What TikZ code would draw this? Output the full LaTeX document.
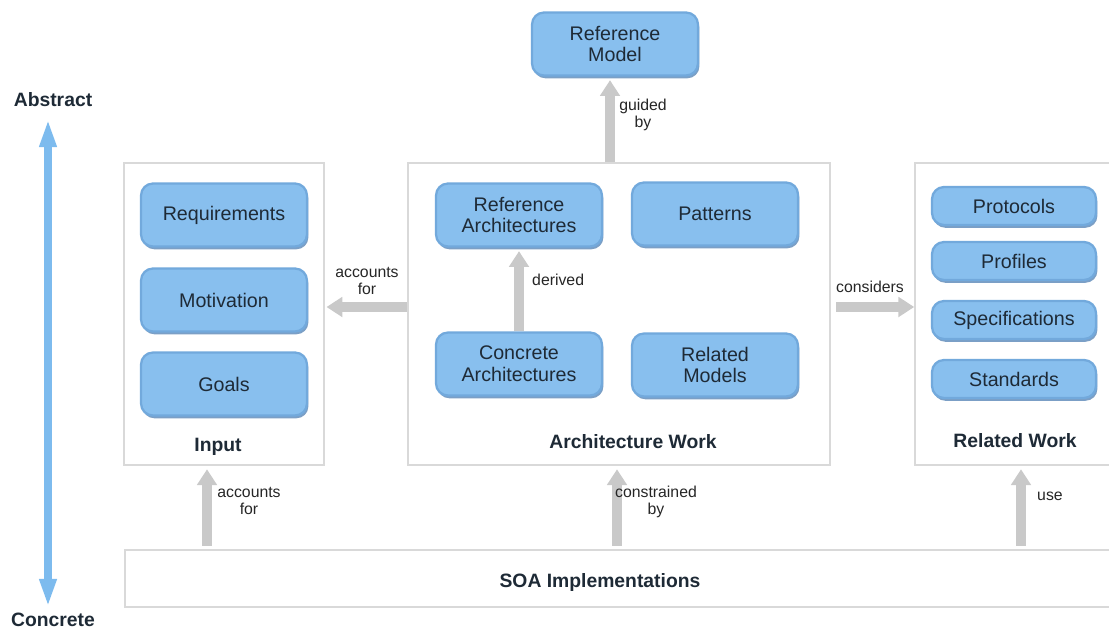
\documentclass[tikz,border=0pt]{standalone}
\usepackage{fontspec}
\setmainfont{Liberation Sans}
\usetikzlibrary{arrows.meta,shadows}
\definecolor{boxfill}{HTML}{88BFEE}
\definecolor{boxline}{HTML}{72A9DC}
\definecolor{boxshade}{HTML}{4F80B3}
\definecolor{framegray}{HTML}{D9D9D9}
\definecolor{arrowgray}{HTML}{C9C9C9}
\definecolor{scaleblue}{HTML}{7DBBEE}
\definecolor{boxtext}{HTML}{1E2A36}
\tikzset{
  bluebox/.style={rounded corners=0.24cm, fill=boxfill,
    draw=boxline, line width=1.3pt, align=center, text=boxtext,
    font=\fontsize{11.2}{12.4}\selectfont,
    drop shadow={shadow xshift=0.8pt, shadow yshift=-1.6pt, fill=boxshade, opacity=0.75},
    inner sep=0pt},
  bigbox/.style={bluebox, minimum width=3.32cm, minimum height=1.26cm},
  smallbox/.style={bluebox, minimum width=3.28cm, minimum height=0.76cm},
  frame/.style={draw=framegray, line width=0.9pt, fill=white, inner sep=0pt},
  framelabel/.style={font=\bfseries\fontsize{11}{12}\selectfont, text=boxtext},
  lbl/.style={font=\fontsize{9}{10}\selectfont, align=center, text=black!85},
  bigarrow/.style={draw=arrowgray, line width=5.6pt,
    -{Triangle[length=9pt, width=11pt]}},
  scalearrow/.style={draw=scaleblue, line width=4.6pt,
    {Triangle[length=16pt, width=9pt]}-{Triangle[length=16pt, width=9pt]}},
  scalelabel/.style={font=\bfseries\fontsize{11}{12}\selectfont, text=boxtext}
}
\begin{document}
\begin{tikzpicture}[x=0.02cm, y=-0.02cm]
\useasboundingbox (0,0) rectangle (1109,632);
\clip (0,0) rectangle (1109,632);

% frames
\node[frame, minimum width=4cm, minimum height=6.04cm] (input) at (224,314) {};
\node[frame, minimum width=8.44cm, minimum height=6.04cm] (arch) at (619,314) {};
\node[frame, minimum width=4.1cm, minimum height=6.04cm] (related) at (1017.5,314) {};
\node[frame, minimum width=19.9cm, minimum height=1.14cm] (soa) at (622.5,578.5) {};

\node[framelabel] (inputlbl) at (218,447) {Input};
\node[framelabel] (archlbl) at (633,442) {Architecture Work};
\node[framelabel] (relatedlbl) at (1015,441) {Related Work};
\node[framelabel] (soalbl) at (600,582) {SOA Implementations};

% top model
\node[bigbox] (refmodel) at (615,44) {Reference\\Model};

% input boxes
\node[bigbox] (req) at (224,215) {Requirements};
\node[bigbox] (mot) at (224,300) {Motivation};
\node[bigbox] (goals) at (224,384) {Goals};

% architecture work boxes
\node[bigbox] (refarch) at (519,215) {Reference\\Architectures};
\node[bigbox] (patterns) at (715,214) {Patterns};
\node[bigbox] (concarch) at (519,364) {Concrete\\Architectures};
\node[bigbox] (relmodels) at (715,365) {Related\\Models};

% related work boxes
\node[smallbox] (protocols) at (1014,206) {Protocols};
\node[smallbox] (profiles) at (1014,261) {Profiles};
\node[smallbox] (specs) at (1014,320) {Specifications};
\node[smallbox] (standards) at (1014,379) {Standards};

% connectors
\draw[bigarrow] (arch.north -| 610,0) -- ([yshift=-2pt]refmodel.south -| 610,0);
\node[lbl] (guidedlbl) at (643,115) {guided\\by};

\draw[bigarrow] (concarch.north) -- ([yshift=-2pt]refarch.south);
\node[lbl, anchor=west] (derivedlbl) at (526,280) {derived};

\draw[bigarrow] (arch.west |- 0,307) -- ([xshift=1pt]input.east |- 0,307);
\node[lbl] (acclbl) at (367,281) {accounts\\for};

\draw[bigarrow] ([xshift=3pt]arch.east |- 0,307) -- (related.west |- 0,307);
\node[lbl] (conslbl) at (870,287) {considers};

\draw[bigarrow] ([yshift=2pt]soa.north -| 207,0) -- ([yshift=-2pt]input.south -| 207,0);
\node[lbl] (acc2lbl) at (249,501) {accounts\\for};

\draw[bigarrow] ([yshift=2pt]soa.north -| 617,0) -- ([yshift=-2pt]arch.south -| 617,0);
\node[lbl] (conlbl) at (656,502) {constrained\\by};

\draw[bigarrow] ([yshift=2pt]soa.north -| 1021,0) -- ([yshift=-2pt]related.south -| 1021,0);
\node[lbl, anchor=west] (uselbl) at (1031,496) {use};

% abstraction scale
\node[scalelabel] (abstract) at (53,100) {Abstract};
\node[scalelabel] (concrete) at (53,620) {Concrete};
\coordinate (scaletop) at (48,119);
\coordinate (scalebot) at (48,607);
\draw[scalearrow] (scalebot) -- (scaletop);
\end{tikzpicture}
\end{document}
